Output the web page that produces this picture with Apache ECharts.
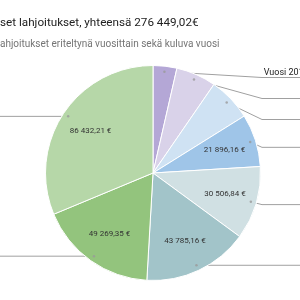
<!DOCTYPE html>
<html><head><meta charset="utf-8">
<script src="https://cdn.jsdelivr.net/npm/echarts@6/dist/echarts.min.js"></script>
<style>
html,body{margin:0;padding:0;background:#fff;}
#wrap{position:relative;width:300px;height:300px;overflow:hidden;}
#c{position:absolute;left:-200px;top:0;width:700px;height:300px;}
</style>
</head><body><div id="wrap"><div id="c"></div></div>
<script>
var titleText = 'set lahjoitukset, yhteensä 276 449,02€';
var subtitleText = 'ahjoitukset eriteltynä vuosittain sekä kuluva vuosi';
var categories = ['Vuosi 2016 ja aiemmin', 'Vuosi 2017', 'Vuosi 2018', 'Vuosi 2019', 'Vuosi 2020', 'Vuosi 2021', 'Vuosi 2022', 'Kuluva vuosi'];
var values = [9880.50, 16630.00, 18048.80, 21896.16, 30506.84, 43785.16, 49269.35, 86432.21];
var colors = ['#b4a7d6', '#d9d2e9', '#cfe2f3', '#9fc5e8', '#d0e0e3', '#a2c4c9', '#93c47d', '#b6d7a8'];

var OFF = 200;            // chart canvas is shifted left by this many px
var CX = 153 + OFF, CY = 173, R = 107.5, TOP = 67, RL = 102;
var total = values.reduce(function (a, b) { return a + b; }, 0);

function fmt(v) {
  var p = v.toFixed(2).split('.');
  return p[0].replace(/\B(?=(\d{3})+(?!\d))/g, ' ') + ',' + p[1];
}
var data = categories.map(function (c, i) { return { name: c, value: values[i] }; });
// middle of each slice along the value axis, for the small dots at line starts
var mids = [];
values.reduce(function (acc, v) { mids.push([1, acc + v / 2]); return acc + v; }, 0);

var box = { left: 0, right: 0, top: TOP, bottom: 0 };
function pie(extra) {
  var o = { type: 'pie', center: [CX, CY - TOP], startAngle: 90, silent: true,
            emphasis: { disabled: true }, avoidLabelOverlap: true };
  for (var k in box) o[k] = box[k];
  for (var k2 in extra) o[k2] = extra[k2];
  return o;
}

var chart = echarts.init(document.getElementById('c'), null, { renderer: 'canvas' });
chart.setOption({
  animation: false,
  color: colors,
  title: {
    text: titleText, subtext: subtitleText, left: OFF, top: 16, padding: 0, itemGap: 7,
    textStyle: { fontFamily: 'Roboto', fontSize: 11.7, fontWeight: 'normal', color: '#222', lineHeight: 15 },
    subtextStyle: { fontFamily: 'Roboto', fontSize: 10, color: '#757575', lineHeight: 12 }
  },
  polar: { center: [CX, CY], radius: RL },
  angleAxis: { type: 'value', min: 0, max: total, startAngle: 90, clockwise: true, show: false },
  radiusAxis: { type: 'value', min: 0, max: 1, show: false },
  series: [
    pie({
      radius: [0, R], data: data,
      label: { show: false }, labelLine: { show: false },
      itemStyle: { borderColor: '#fff', borderWidth: 1 }
    }),
    pie({
      radius: [R * 0.34, R],
      data: data.map(function (d) { return { name: d.name, value: d.value, label: { show: d.value / total > 0.07 } }; }),
      itemStyle: { color: 'transparent', borderWidth: 0 },
      label: { position: 'inside', color: '#333', fontSize: 8, fontFamily: 'Roboto',
               formatter: function (p) { return fmt(p.value) + ' €'; } },
      labelLine: { show: false }
    }),
    pie({
      radius: [0, RL], data: data,
      itemStyle: { color: 'transparent', borderWidth: 0 },
      label: {
        position: 'outside', color: '#222', fontFamily: 'Roboto', fontSize: 9,
        formatter: function (p) { return '{t|' + p.name + '}\n{s|' + (p.percent.toFixed(1).replace('.', ',')) + ' %}'; },
        rich: {
          t: { fontSize: 9, lineHeight: 10, fontFamily: 'Roboto', color: '#222' },
          s: { fontSize: 9, lineHeight: 10, fontFamily: 'Roboto', color: '#757575' }
        }
      },
      labelLine: { show: true, length: 0, length2: 8, lineStyle: { color: '#a0a0a0', width: 1 } },
      labelLayout: function (p) {
        var pts = p.labelLinePoints;
        if (!pts) return {};
        var r = p.labelRect;
        var y = r.y + r.height / 2;
        var right = pts[0][0] > CX;
        var tx = right ? CX + 109 : CX - 109;
        var ex = right ? CX + 1000 : CX - 1000;
        return {
          x: right ? CX + 202 : CX - 320, y: y,
          align: right ? 'right' : 'left', verticalAlign: 'middle',
          labelLinePoints: [pts[0], [tx, y], [ex, y]]
        };
      }
    }),
    {
      type: 'scatter', coordinateSystem: 'polar', data: mids, symbolSize: 2.5, silent: true,
      itemStyle: { color: '#9a9a9a' }, z: 5
    }
  ]
});
</script>
</body></html>
